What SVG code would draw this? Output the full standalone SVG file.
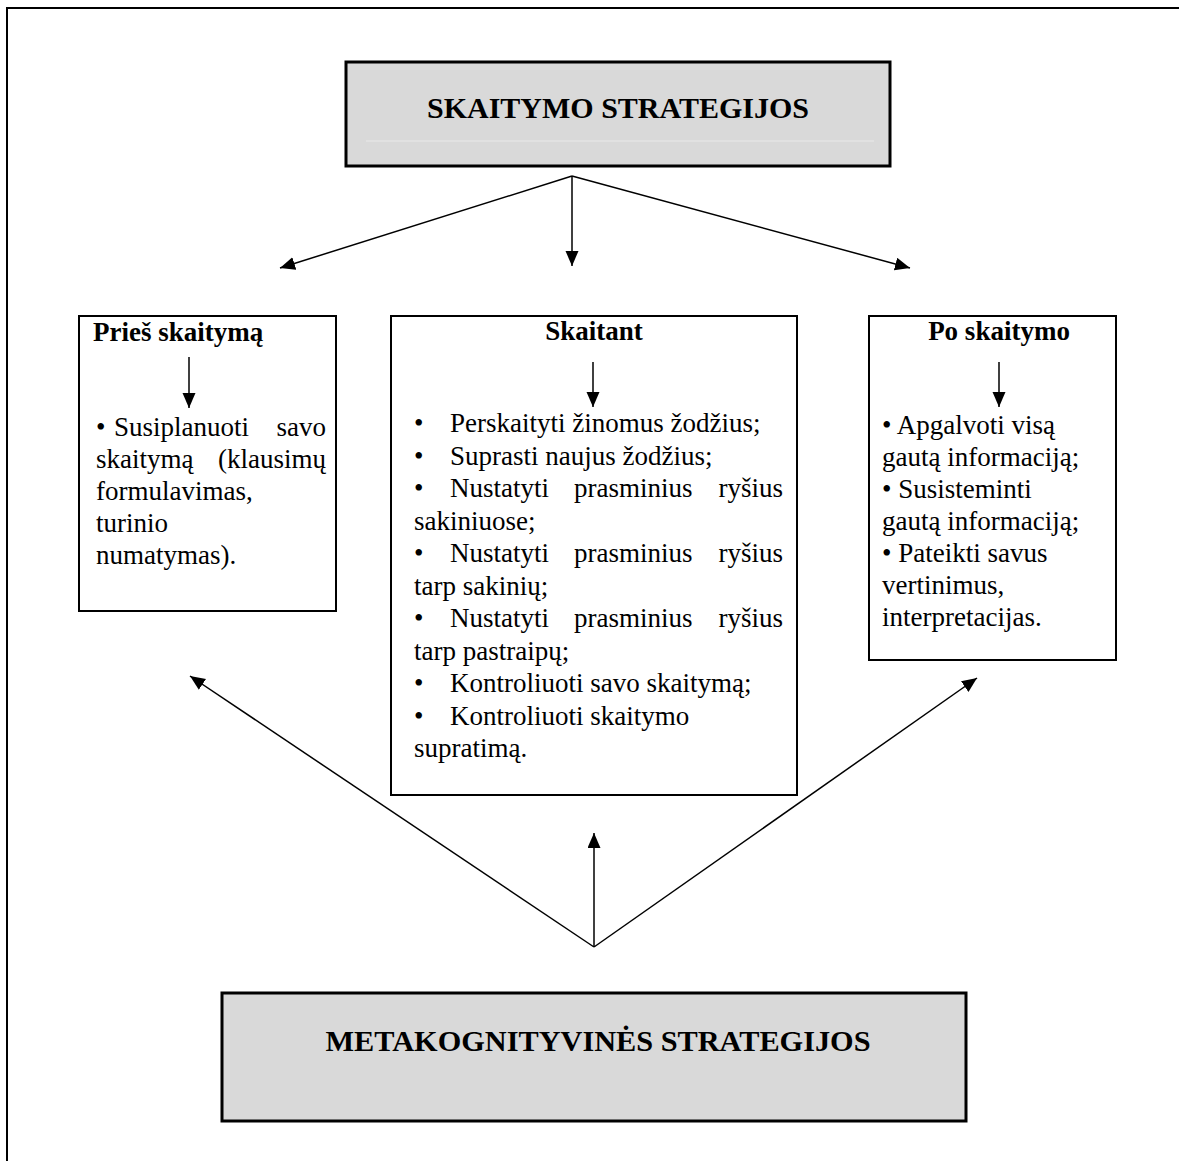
<svg xmlns="http://www.w3.org/2000/svg" width="1179" height="1161" viewBox="0 0 1179 1161">
<style>
text { font-family: "Liberation Serif", "Times New Roman", serif; fill: #000; }
.body { font-size: 27px; }
.title { font-size: 27px; font-weight: bold; }
.big { font-size: 30px; font-weight: bold; }
.gray { fill: #d9d9d9; stroke: #000; stroke-width: 3; }
.box { fill: #fff; stroke: #000; stroke-width: 2; }
.conn { stroke: #000; stroke-width: 1.5; fill: none; marker-end: url(#ah); }
</style>
<defs>
<marker id="ah" markerUnits="userSpaceOnUse" markerWidth="16" markerHeight="14" refX="15" refY="6.5" orient="auto">
<path d="M0,0 L15,6.5 L0,13 z" fill="#000"/>
</marker>
</defs>
<rect width="1179" height="1161" fill="#fff"/>
<path d="M7,1161 V8 H1179" stroke="#000" stroke-width="2" fill="none"/>

<g id="top">
<rect class="gray" x="346" y="62" width="544" height="104"/>
<line x1="366" y1="141" x2="874" y2="141" stroke="#e9e9e9" stroke-width="1"/>
<text class="big" x="618" y="118" text-anchor="middle">SKAITYMO STRATEGIJOS</text>
</g>

<g id="pries">
<rect class="box" x="79" y="316" width="257" height="295"/>
<text class="title" x="93" y="341">Prieš skaitymą</text>
<line class="conn" x1="189" y1="357" x2="189" y2="408"/>
<text class="body" x="96" y="436">•</text>
<text class="body" x="114" y="436">Susiplanuoti</text>
<text class="body" x="326" y="436" text-anchor="end">savo</text>
<text class="body" x="96" y="468">skaitymą</text>
<text class="body" x="326" y="468" text-anchor="end">(klausimų</text>
<text class="body" x="96" y="500">formulavimas,</text>
<text class="body" x="96" y="532">turinio</text>
<text class="body" x="96" y="564">numatymas).</text>
</g>

<g id="skaitant">
<rect class="box" x="391" y="316" width="406" height="479"/>
<text class="title" x="594" y="340" text-anchor="middle">Skaitant</text>
<line class="conn" x1="593" y1="362" x2="593" y2="407"/>
<text class="body" x="414" y="432">•</text>
<text class="body" x="450" y="432">Perskaityti žinomus žodžius;</text>
<text class="body" x="414" y="465">•</text>
<text class="body" x="450" y="465">Suprasti naujus žodžius;</text>
<text class="body" x="414" y="497">•</text>
<text class="body" x="450" y="497">Nustatyti</text>
<text class="body" x="574" y="497">prasminius</text>
<text class="body" x="783" y="497" text-anchor="end">ryšius</text>
<text class="body" x="414" y="530">sakiniuose;</text>
<text class="body" x="414" y="562">•</text>
<text class="body" x="450" y="562">Nustatyti</text>
<text class="body" x="574" y="562">prasminius</text>
<text class="body" x="783" y="562" text-anchor="end">ryšius</text>
<text class="body" x="414" y="595">tarp sakinių;</text>
<text class="body" x="414" y="627">•</text>
<text class="body" x="450" y="627">Nustatyti</text>
<text class="body" x="574" y="627">prasminius</text>
<text class="body" x="783" y="627" text-anchor="end">ryšius</text>
<text class="body" x="414" y="660">tarp pastraipų;</text>
<text class="body" x="414" y="692">•</text>
<text class="body" x="450" y="692">Kontroliuoti savo skaitymą;</text>
<text class="body" x="414" y="725">•</text>
<text class="body" x="450" y="725">Kontroliuoti skaitymo</text>
<text class="body" x="414" y="757">supratimą.</text>
</g>

<g id="po">
<rect class="box" x="869" y="316" width="247" height="344"/>
<text class="title" x="999" y="340" text-anchor="middle">Po skaitymo</text>
<line class="conn" x1="999" y1="362" x2="999" y2="407"/>
<text class="body" x="882" y="434">• Apgalvoti visą</text>
<text class="body" x="882" y="466">gautą informaciją;</text>
<text class="body" x="882" y="498">• Susisteminti</text>
<text class="body" x="882" y="530">gautą informaciją;</text>
<text class="body" x="882" y="562">• Pateikti savus</text>
<text class="body" x="882" y="594">vertinimus,</text>
<text class="body" x="882" y="626">interpretacijas.</text>
</g>

<g id="meta">
<rect class="gray" x="222" y="993" width="744" height="128"/>
<text class="big" x="598" y="1051" text-anchor="middle" textLength="545" lengthAdjust="spacingAndGlyphs">METAKOGNITYVINĖS STRATEGIJOS</text>
</g>

<g id="connectors">
<line class="conn" x1="572" y1="176" x2="280" y2="268"/>
<line class="conn" x1="572" y1="176" x2="572" y2="266"/>
<line class="conn" x1="572" y1="176" x2="910" y2="268"/>
<line class="conn" x1="594" y1="947" x2="190" y2="676"/>
<line class="conn" x1="594" y1="947" x2="594" y2="833"/>
<line class="conn" x1="594" y1="947" x2="977" y2="678"/>
</g>
</svg>
